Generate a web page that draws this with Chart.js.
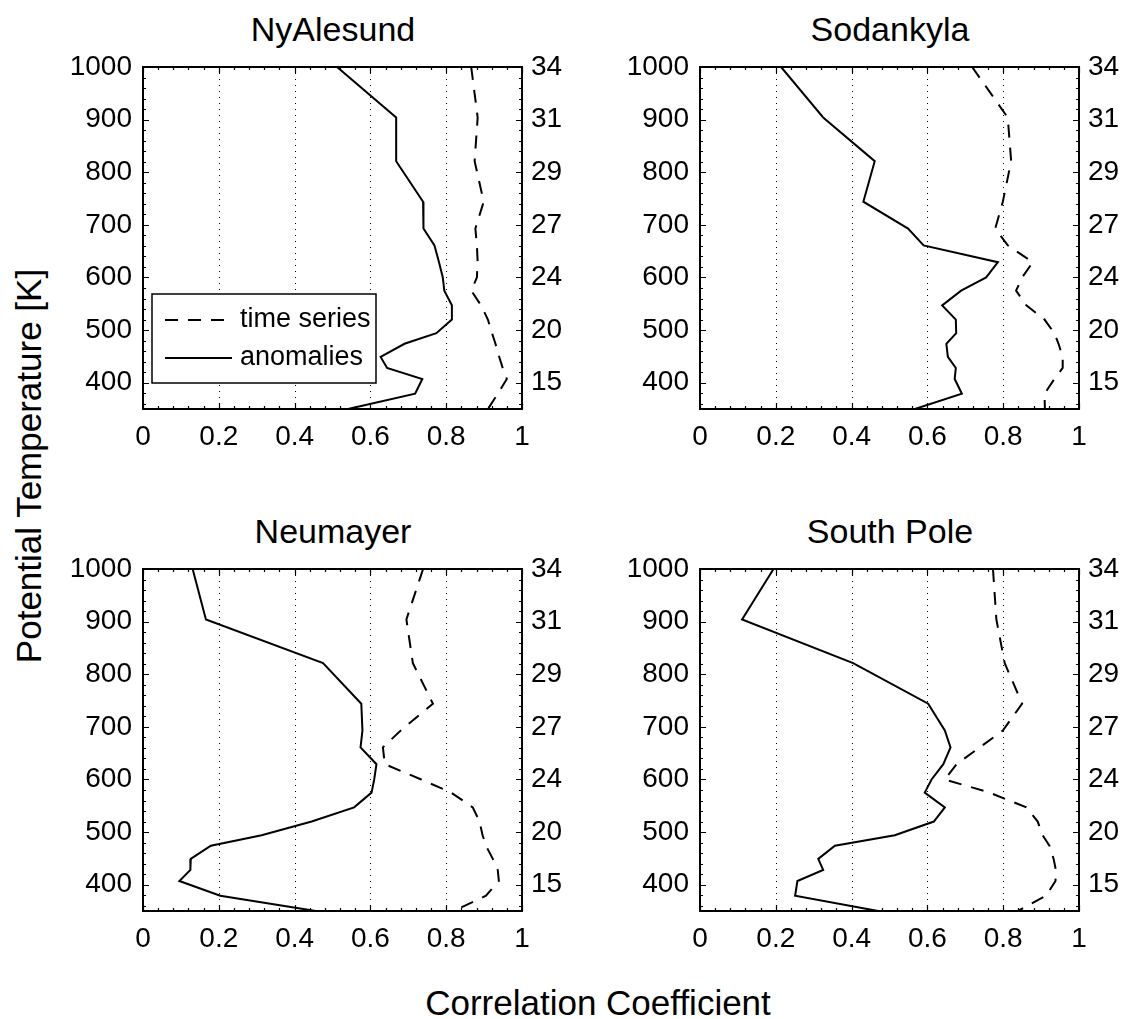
<!DOCTYPE html>
<html>
<head>
<meta charset="utf-8">
<script src="https://cdn.jsdelivr.net/npm/chart.js@4.4.0/dist/chart.umd.min.js"></script>
<style>
  body { margin: 0; background: #fff; width: 1126px; height: 1019px; position: relative; overflow: hidden;
         font-family: "Liberation Sans", Arial, Helvetica, sans-serif; color: #000; }
  canvas { position: absolute; }
  .ttl { position: absolute; width: 380px; text-align: center; font-size: 34px; line-height: 34px; }
  .axl { position: absolute; font-size: 35px; line-height: 35px; white-space: nowrap; }
</style>
</head>
<body>
<div class="ttl" style="left:143px; top:12px;">NyAlesund</div>
<div class="ttl" style="left:700px; top:12px;">Sodankyla</div>
<div class="ttl" style="left:143px; top:514px;">Neumayer</div>
<div class="ttl" style="left:700px; top:514px;">South Pole</div>
<div class="axl" style="left:28px; top:466px; transform: translate(-50%,-50%) rotate(-90deg);">Potential Temperature [K]</div>
<div class="axl" style="left:598px; top:1002px; transform: translate(-50%,-50%);">Correlation Coefficient</div>

<canvas id="c1" width="540" height="460" style="left:60px; top:0px;"></canvas>
<canvas id="c2" width="540" height="460" style="left:617px; top:0px;"></canvas>
<canvas id="c3" width="540" height="460" style="left:60px; top:502px;"></canvas>
<canvas id="c4" width="540" height="460" style="left:617px; top:502px;"></canvas>

<script>
// potential temperature levels [K], top to bottom
const levels = [1000, 904, 821, 744, 693, 661, 629, 600, 575, 547, 520, 494, 474, 449, 428, 407, 379, 350];

// correlation coefficients per station
const nyTimeSeries = [0.866, 0.883, 0.875, 0.899, 0.877, 0.881, 0.883, 0.881, 0.866, 0.892, 0.910, 0.921, 0.930, 0.940, 0.949, 0.960, 0.936, 0.910];
const nyAnomalies  = [0.512, 0.668, 0.668, 0.739, 0.740, 0.769, 0.781, 0.791, 0.795, 0.815, 0.815, 0.774, 0.690, 0.627, 0.644, 0.737, 0.718, 0.541];

const soTimeSeries = [0.718, 0.812, 0.821, 0.799, 0.779, 0.812, 0.878, 0.850, 0.834, 0.861, 0.909, 0.935, 0.946, 0.957, 0.957, 0.935, 0.909, 0.910];
const soAnomalies  = [0.214, 0.325, 0.461, 0.431, 0.549, 0.590, 0.786, 0.755, 0.689, 0.639, 0.675, 0.676, 0.650, 0.654, 0.675, 0.672, 0.691, 0.567];

const neTimeSeries = [0.739, 0.695, 0.712, 0.765, 0.680, 0.633, 0.638, 0.734, 0.813, 0.870, 0.888, 0.896, 0.905, 0.923, 0.936, 0.939, 0.905, 0.820];
const neAnomalies  = [0.131, 0.166, 0.475, 0.576, 0.579, 0.574, 0.616, 0.610, 0.603, 0.557, 0.445, 0.313, 0.179, 0.126, 0.125, 0.096, 0.204, 0.456];

const spTimeSeries = [0.773, 0.782, 0.804, 0.850, 0.799, 0.738, 0.677, 0.646, 0.764, 0.861, 0.891, 0.904, 0.922, 0.933, 0.939, 0.938, 0.913, 0.839];
const spAnomalies  = [0.194, 0.111, 0.404, 0.602, 0.646, 0.661, 0.642, 0.611, 0.593, 0.646, 0.617, 0.514, 0.356, 0.312, 0.325, 0.257, 0.251, 0.470];

// axis ticks
const xTicks = [0, 0.2, 0.4, 0.6, 0.8, 1];
const yTicks = [400, 500, 600, 700, 800, 900, 1000];
const altLabels = ['15', '20', '24', '27', '29', '31', '34'];   // right axis, at the yTicks positions

const FONT = '"Liberation Sans", Arial, Helvetica, sans-serif';

// dotted grid, box and inward ticks
const framePlugin = {
  id: 'frame',
  beforeDatasetsDraw(chart) {
    const { ctx, chartArea: a, scales: { x } } = chart;
    ctx.save();
    ctx.strokeStyle = '#000';
    ctx.lineWidth = 1;
    ctx.setLineDash([1, 5]);
    xTicks.filter(v => v > 0 && v < 1).forEach(v => {
      const px = Math.round(x.getPixelForValue(v)) + 0.5;
      ctx.beginPath(); ctx.moveTo(px, a.top); ctx.lineTo(px, a.bottom); ctx.stroke();
    });
    ctx.restore();
  },
  afterDatasetsDraw(chart) {
    const { ctx, chartArea: a, scales: { x, y } } = chart;
    ctx.save();
    ctx.strokeStyle = '#000';
    ctx.lineWidth = 1.2;
    for (let i = 0; i <= 25; i++) {
      const px = Math.round(x.getPixelForValue(i * 0.04)) + 0.5;
      const len = i % 5 === 0 ? 6 : 3;
      ctx.beginPath();
      ctx.moveTo(px, a.bottom); ctx.lineTo(px, a.bottom - len);
      ctx.moveTo(px, a.top); ctx.lineTo(px, a.top + len);
      ctx.stroke();
    }
    for (let v = 360; v <= 1000; v += 20) {
      const py = Math.round(y.getPixelForValue(v)) + 0.5;
      const len = v % 100 === 0 ? 6 : 3;
      ctx.beginPath();
      ctx.moveTo(a.left, py); ctx.lineTo(a.left + len, py);
      ctx.moveTo(a.right, py); ctx.lineTo(a.right - len, py);
      ctx.stroke();
    }
    ctx.lineWidth = 2;
    ctx.strokeRect(a.left, a.top, a.right - a.left, a.bottom - a.top);
    ctx.restore();
  },
  afterDraw(chart) {
    if (!chart.options.plugins.boxLegend || !chart.options.plugins.boxLegend.show) return;
    const { ctx, chartArea: a } = chart;
    const bx = a.left + 9, by = a.top + 227, bw = 224, bh = 89;
    ctx.save();
    ctx.fillStyle = '#fff';
    ctx.fillRect(bx, by, bw, bh);
    ctx.strokeStyle = '#000';
    ctx.lineWidth = 1.5;
    ctx.strokeRect(bx, by, bw, bh);
    ctx.font = '27px ' + FONT;
    ctx.fillStyle = '#000';
    ctx.textBaseline = 'middle';
    chart.data.datasets.forEach((ds, i) => {
      const cy = by + 26 + i * 38;
      ctx.lineWidth = 2;
      ctx.setLineDash(ds.borderDash || []);
      ctx.beginPath(); ctx.moveTo(bx + 13, cy); ctx.lineTo(bx + 80, cy); ctx.stroke();
      ctx.setLineDash([]);
      ctx.fillText(ds.label, bx + 88, cy);
    });
    ctx.restore();
  }
};

function makePanel(id, ts, an, showLegend) {
  new Chart(document.getElementById(id), {
    type: 'line',
    data: {
      datasets: [
        { label: 'time series', data: levels.map((k, i) => ({ x: ts[i], y: k })),
          borderColor: '#000', borderWidth: 2, borderDash: [13, 10], pointRadius: 0, tension: 0, fill: false },
        { label: 'anomalies', data: levels.map((k, i) => ({ x: an[i], y: k })),
          borderColor: '#000', borderWidth: 2, pointRadius: 0, tension: 0, fill: false }
      ]
    },
    options: {
      responsive: false,
      animation: false,
      layout: { padding: { top: 67, left: 0, right: 0, bottom: 0 } },
      plugins: { legend: { display: false }, tooltip: { enabled: false }, title: { display: false },
                 boxLegend: { show: showLegend } },
      scales: {
        x: {
          type: 'linear', min: 0, max: 1, position: 'bottom',
          grid: { display: false }, border: { display: false },
          afterBuildTicks: s => { s.ticks = xTicks.map(v => ({ value: v })); },
          afterFit: s => { s.height = 51; },
          ticks: { color: '#000', padding: 3, font: { family: FONT, size: 28 }, maxRotation: 0,
                   callback: v => String(v) }
        },
        y: {
          type: 'linear', min: 350, max: 1000, position: 'left',
          grid: { display: false }, border: { display: false },
          afterBuildTicks: s => { s.ticks = yTicks.map(v => ({ value: v })); },
          afterFit: s => { s.width = 83; },
          ticks: { color: '#000', padding: 3, font: { family: FONT, size: 28 }, callback: v => String(v) }
        },
        y2: {
          type: 'linear', min: 350, max: 1000, position: 'right',
          grid: { display: false }, border: { display: false },
          afterBuildTicks: s => { s.ticks = yTicks.map(v => ({ value: v })); },
          afterFit: s => { s.width = 78; },
          ticks: { color: '#000', padding: 1, font: { family: FONT, size: 28 },
                   callback: v => altLabels[yTicks.indexOf(v)] }
        }
      }
    },
    plugins: [framePlugin]
  });
}

makePanel('c1', nyTimeSeries, nyAnomalies, true);
makePanel('c2', soTimeSeries, soAnomalies, false);
makePanel('c3', neTimeSeries, neAnomalies, false);
makePanel('c4', spTimeSeries, spAnomalies, false);
</script>
</body>
</html>
